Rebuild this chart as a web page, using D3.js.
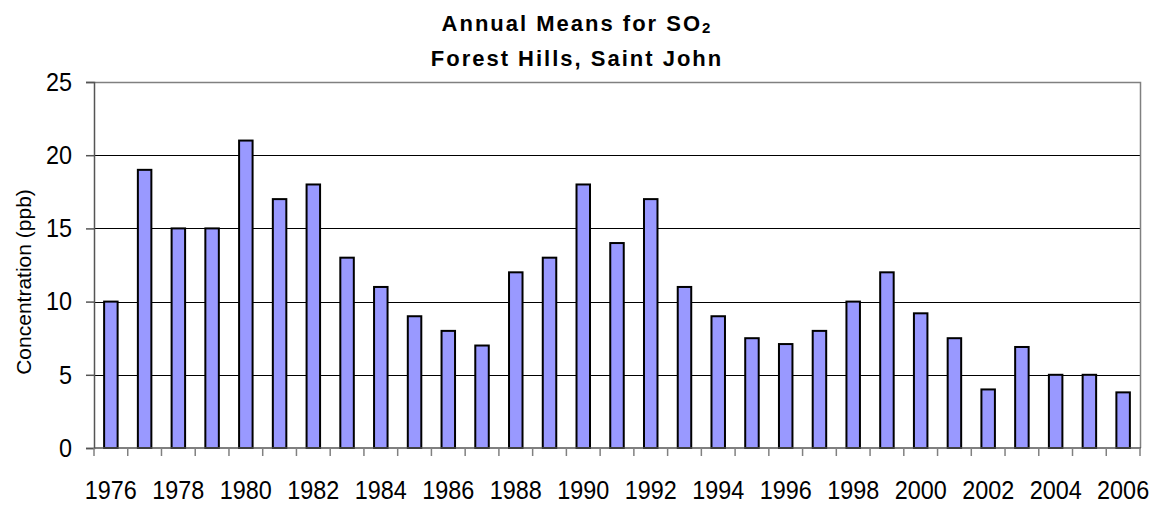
<!DOCTYPE html>
<html>
<head>
<meta charset="utf-8">
<script src="https://cdn.jsdelivr.net/npm/d3@7"></script>
<style>
  body { margin: 0; background: #fff; }
  text { font-family: 'Liberation Sans', Arial, sans-serif; fill: #000; }
</style>
</head>
<body>
<div id="app"></div>
<script>
const years = d3.range(1976, 2007).map(String)
const so2 = [10, 19, 15, 15, 21, 17, 18, 13, 11, 9, 8, 7, 12, 13, 18, 14, 17, 11, 9, 7.5, 7.1, 8, 10, 12, 9.2, 7.5, 4, 6.9, 5, 5, 3.8]
const yTicks = [0, 5, 10, 15, 20, 25]

const w = 1155
const h = 506
const mLeft = 94, mRight = 1140, mTop = 82, mBottom = 448
const sx = 0.9 // labels in the original are a little narrow

const svg = d3.select('#app')
  .append('svg')
  .attr('width', w)
  .attr('height', h)

const x = d3.scaleBand()
  .domain(years)
  .range([mLeft, mRight])
  .paddingInner(0.6)
  .paddingOuter(0.3)

const xStep = d3.scaleBand().domain(years).range([mLeft, mRight])

const y = d3.scaleLinear()
  .domain([0, 25])
  .range([mBottom, mTop])

// gridlines
svg.append('g')
  .selectAll('line')
  .data(yTicks.filter(d => d > 0 && d < 25))
  .enter()
  .append('line')
  .attr('x1', mLeft)
  .attr('x2', mRight)
  .attr('y1', d => Math.round(y(d)) + 0.5)
  .attr('y2', d => Math.round(y(d)) + 0.5)
  .attr('stroke', '#000')
  .attr('stroke-width', 1)

// plot border top/right
svg.append('path')
  .attr('d', `M${mLeft},${mTop + 0.5}H${mRight + 0.5}V${mBottom}`)
  .attr('fill', 'none')
  .attr('stroke', '#808080')
  .attr('stroke-width', 1.5)

// bars
svg.append('g')
  .selectAll('rect')
  .data(so2)
  .enter()
  .append('rect')
  .attr('x', (d, i) => x(years[i]))
  .attr('y', d => y(d))
  .attr('width', x.bandwidth())
  .attr('height', d => mBottom - y(d))
  .attr('fill', '#9999ff')
  .attr('stroke', '#000')
  .attr('stroke-width', 2)

// y axis
const yAxis = d3.axisLeft(y).tickValues(yTicks).tickSize(8).tickFormat(d3.format('d'))
const gy = svg.append('g')
  .attr('transform', `translate(${mLeft}, 0)`)
  .call(yAxis)
gy.select('.domain').attr('stroke', '#555').attr('stroke-width', 1.5)
gy.selectAll('.tick line').attr('stroke', '#555').attr('stroke-width', 1.5)
gy.selectAll('.tick text')
  .attr('x', -22 / sx)
  .attr('transform', `scale(${sx},1)`)
  .style('font-size', '26px')
  .style('font-family', "'Liberation Sans', Arial, sans-serif")
  .attr('fill', '#000')

// x axis
const gx = svg.append('g')
  .attr('transform', `translate(0, ${mBottom})`)
gx.append('line')
  .attr('x1', mLeft).attr('x2', mRight + 1)
  .attr('y1', 0).attr('y2', 0)
  .attr('stroke', '#555').attr('stroke-width', 1.5)
gx.selectAll('.xtick')
  .data(years.concat(['end']))
  .enter()
  .append('line')
  .attr('x1', d => d === 'end' ? mRight : xStep(d))
  .attr('x2', d => d === 'end' ? mRight : xStep(d))
  .attr('y1', 0)
  .attr('y2', 8)
  .attr('stroke', '#808080')
  .attr('stroke-width', 1.5)
gx.selectAll('.xlabel')
  .data(years.filter((d, i) => i % 2 === 0))
  .enter()
  .append('text')
  .attr('transform', d => `translate(${xStep(d) + xStep.bandwidth() / 2}, 51) scale(${sx},1)`)
  .attr('text-anchor', 'middle')
  .style('font-size', '26px')
  .text(d => d)

// y title
svg.append('text')
  .attr('transform', 'translate(31, 282) rotate(-90)')
  .attr('text-anchor', 'middle')
  .style('font-size', '21px')
  .text('Concentration (ppb)')

// chart title
const title = svg.append('text')
  .attr('x', 577)
  .attr('y', 31)
  .attr('text-anchor', 'middle')
  .style('font-size', '22px')
  .style('font-weight', 'bold')
  .style('letter-spacing', '2px')
title.append('tspan').text('Annual Means for SO')
title.append('tspan').attr('dy', 2).style('font-size', '15px').text('2')

svg.append('text')
  .attr('x', 577)
  .attr('y', 66)
  .attr('text-anchor', 'middle')
  .style('font-size', '22px')
  .style('font-weight', 'bold')
  .style('letter-spacing', '2px')
  .text('Forest Hills, Saint John')
</script>
</body>
</html>
